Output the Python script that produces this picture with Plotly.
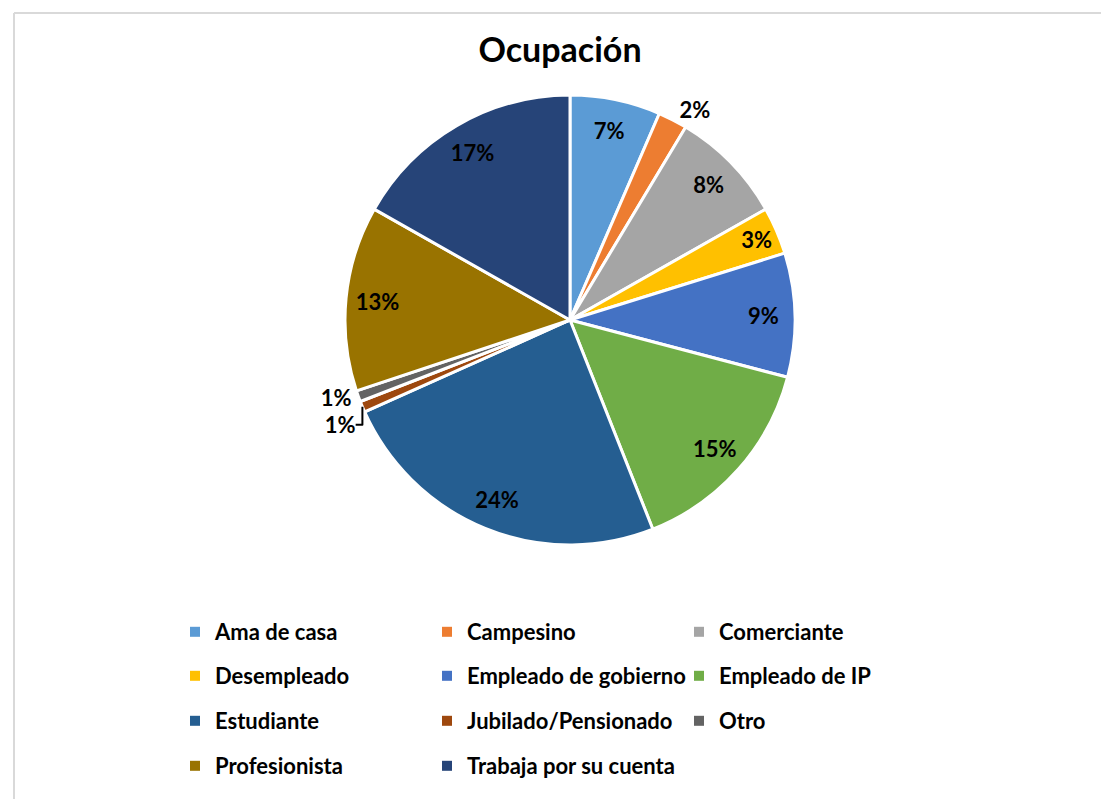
import plotly.graph_objects as go

labels = ['Ama de casa', 'Campesino', 'Comerciante', 'Desempleado',
          'Empleado de gobierno', 'Empleado de IP', 'Estudiante',
          'Jubilado/Pensionado', 'Otro', 'Profesionista', 'Trabaja por su cuenta']
values = [6.5, 2.1, 8.2, 3.4, 8.9, 14.9, 24.3, 0.8, 0.8, 13.3, 16.8]
colors = ['#5B9BD5', '#ED7D31', '#A5A5A5', '#FFC000', '#4472C4', '#70AD47',
          '#255E91', '#9E480E', '#636363', '#997300', '#264478']
text_pos = ['inside', 'outside', 'inside', 'inside', 'inside', 'inside',
            'inside', 'outside', 'outside', 'inside', 'inside']

W, H = 1109, 799
FONT = 'Lato'
pie_domain = dict(x=[337 / W, 787 / W], y=[1 - 537 / H, 1 - 87 / H])

fig = go.Figure()

# the slices
fig.add_trace(go.Pie(
    labels=labels, values=values, sort=False, direction='clockwise', rotation=0,
    marker=dict(colors=colors, line=dict(color='white', width=3)),
    textinfo='none', domain=pie_domain, showlegend=False,
    hoverinfo='label+percent',
))

# transparent ring on top, only to push the labels out like Excel does
fig.add_trace(go.Pie(
    labels=labels, values=values, sort=False, direction='clockwise', rotation=0,
    hole=0.72,
    marker=dict(colors=['rgba(0,0,0,0)'] * len(labels), line=dict(width=0)),
    texttemplate='%{percent:.0%}', textposition=text_pos,
    insidetextorientation='horizontal',
    textfont=dict(family=FONT, size=22, color='black', weight='bold'),
    domain=pie_domain, showlegend=False, hoverinfo='skip',
))

# legend: 3 columns x 4 rows, one legend per row
row_y = [624, 668, 713, 758]
legend_names = ['legend', 'legend2', 'legend3', 'legend4']
for i, (lab, col) in enumerate(zip(labels, colors)):
    fig.add_trace(go.Scatter(
        x=[None], y=[None], mode='markers', name=lab,
        marker=dict(symbol='square', size=10, color=col),
        legend=legend_names[i // 3], showlegend=True,
    ))

legend_common = dict(
    orientation='h', x=167 / W, xanchor='left', yanchor='middle',
    entrywidth=207, entrywidthmode='pixels', itemwidth=30,
    font=dict(family=FONT, size=22, color='black', weight='bold'),
    bgcolor='rgba(0,0,0,0)', itemclick=False, itemdoubleclick=False,
)

fig.update_layout(
    width=W, height=H,
    margin=dict(l=0, r=0, t=0, b=0),
    paper_bgcolor='white', plot_bgcolor='white',
    uniformtext=dict(minsize=22, mode='show'),
    title=dict(text='<b>Ocupación</b>', x=552 / W, xanchor='center',
               y=1 - 42 / H, yanchor='middle',
               font=dict(family=FONT, size=34, color='black')),
    xaxis=dict(visible=False), yaxis=dict(visible=False),
    legend=dict(y=1 - row_y[0] / H, **legend_common),
    legend2=dict(y=1 - row_y[1] / H, **legend_common),
    legend3=dict(y=1 - row_y[2] / H, **legend_common),
    legend4=dict(y=1 - row_y[3] / H, **legend_common),
    shapes=[
        dict(type='line', xref='paper', yref='paper', x0=6 / W, x1=1, y0=1 - 5 / H, y1=1 - 5 / H,
             line=dict(color='#D9D9D9', width=2)),
        dict(type='line', xref='paper', yref='paper', x0=6 / W, x1=6 / W, y0=0, y1=1 - 5 / H,
             line=dict(color='#D9D9D9', width=2)),
    ],
)

fig.write_html('out.html')
